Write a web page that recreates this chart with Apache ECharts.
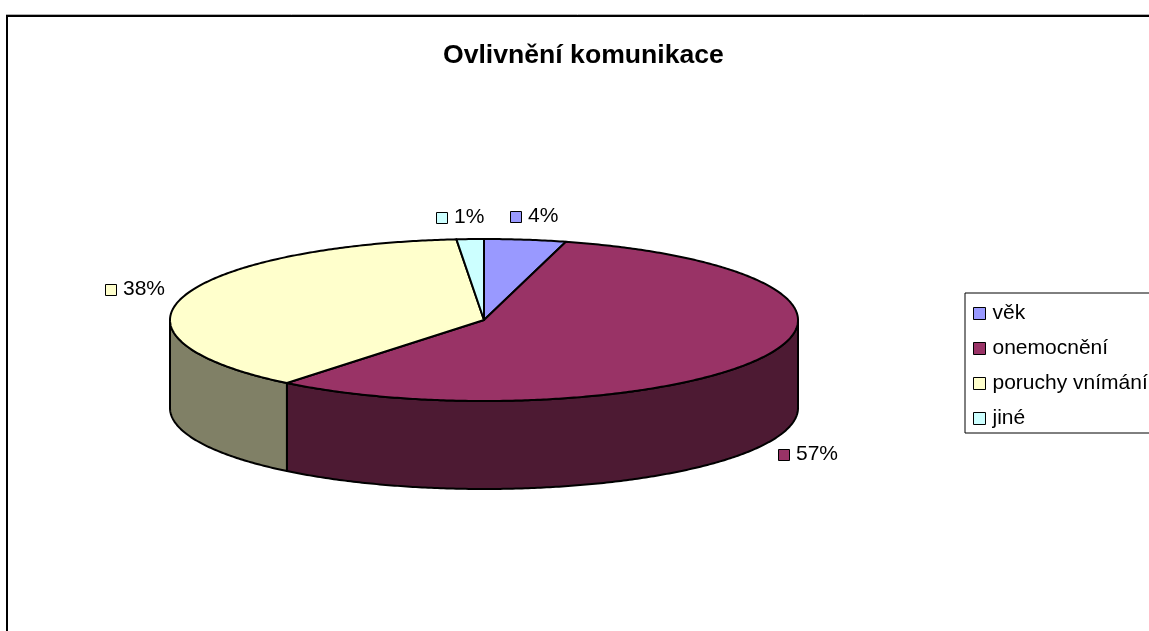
<!DOCTYPE html>
<html>
<head>
<meta charset="utf-8">
<style>
  html, body { margin: 0; padding: 0; background: #fff; overflow: hidden; }
  #chart { width: 1149px; height: 631px; }
</style>
<script src="https://cdn.jsdelivr.net/npm/echarts@6/dist/echarts.min.js"></script>
</head>
<body>
<div id="chart"></div>
<script>
const categories = ['věk', 'onemocnění', 'poruchy vnímání', 'jiné'];
// the labels show these rounded
const shares = [4.2, 56.6, 37.8, 1.4];

const topColors = ['#9999FF', '#993366', '#FFFFCC', '#CCFFFF'];
const sideColors = ['#4D4D80', '#4D1A33', '#808066', '#668080'];

// flattened pie: centre, radii and thickness in pixels
const pie = { cx: 484, cy: 320, rx: 314, ry: 81, depth: 88 };
// where each "n %" label sits (symbol left edge, row middle)
const labelSpots = [[510, 217], [778, 455], [105, 290], [436, 218]];

const font = '"Liberation Sans", Arial, sans-serif';
const total = shares.reduce((a, b) => a + b, 0);

// angle runs clockwise from the top of the pie
function sweep(index) {
  let before = 0;
  for (let i = 0; i < index; i++) before += shares[i];
  return [before / total * 2 * Math.PI, (before + shares[index]) / total * 2 * Math.PI];
}

function rim(angle, drop) {
  return [pie.cx + pie.rx * Math.sin(angle), pie.cy - pie.ry * Math.cos(angle) + (drop || 0)];
}

function arc(from, to, drop) {
  const points = [];
  const steps = Math.max(2, Math.ceil((to - from) / 0.01));
  for (let i = 0; i <= steps; i++) points.push(rim(from + (to - from) * i / steps, drop));
  return points;
}

function renderSlice(index) {
  return function(params, api) {
    const value = api.value(0);
    const [start, end] = sweep(index);
    const children = [];
    const line = { stroke: '#000', lineWidth: 2, lineJoin: 'round' };

    // the wall is only visible on the front half
    const from = Math.max(start, Math.PI / 2);
    const to = Math.min(end, Math.PI * 1.5);
    if (from < to) {
      children.push({
        type: 'polygon',
        shape: { points: arc(from, to, 0).concat(arc(from, to, pie.depth).reverse()) },
        style: Object.assign({ fill: sideColors[index] }, line)
      });
    }
    children.push({
      type: 'polygon',
      shape: { points: [[pie.cx, pie.cy]].concat(arc(start, end, 0)) },
      style: Object.assign({ fill: topColors[index] }, line)
    });

    const [x, y] = labelSpots[index];
    children.push({
      type: 'rect',
      shape: { x: x + 0.5, y: y - 5.5, width: 11, height: 11 },
      style: { fill: topColors[index], stroke: '#000', lineWidth: 1 }
    });
    children.push({
      type: 'text',
      style: {
        x: x + 18, y: y - 1, text: Math.round(value) + '%', fill: '#000',
        font: '21px ' + font, textAlign: 'left', textVerticalAlign: 'middle'
      }
    });
    return { type: 'group', children: children };
  };
}

const chart = echarts.init(document.getElementById('chart'));
chart.setOption({
  animation: false,
  title: {
    text: 'Ovlivnění komunikace',
    left: 443,
    top: 42,
    padding: 0,
    textStyle: { color: '#000', fontFamily: font, fontSize: 26.6, fontWeight: 'bold' }
  },
  legend: {
    orient: 'vertical',
    left: 965,
    top: 293,
    padding: [10, 20, 4, 8],
    itemWidth: 12,
    itemHeight: 12,
    itemGap: 14,
    backgroundColor: '#fff',
    borderColor: '#000',
    borderWidth: 1,
    selectedMode: false,
    data: categories.map(function(name) { return { name: name, icon: 'rect' }; }),
    itemStyle: { borderColor: '#000', borderWidth: 1 },
    textStyle: { color: '#000', fontFamily: font, fontSize: 21, padding: [0, 0, 0, 2] }
  },
  graphic: [
    { type: 'line', silent: true, shape: { x1: 6, y1: 14.5, x2: 1149, y2: 14.5 }, style: { stroke: '#b0b0b0', lineWidth: 1 } },
    { type: 'polyline', silent: true, shape: { points: [[7, 631], [7, 16], [1149, 16]] }, style: { stroke: '#000', lineWidth: 2, fill: null } }
  ],
  series: categories.map(function(name, i) {
    return {
      type: 'custom',
      name: name,
      coordinateSystem: 'none',
      silent: true,
      itemStyle: { color: topColors[i] },
      renderItem: renderSlice(i),
      data: [[shares[i]]]
    };
  })
});
</script>
</body>
</html>
